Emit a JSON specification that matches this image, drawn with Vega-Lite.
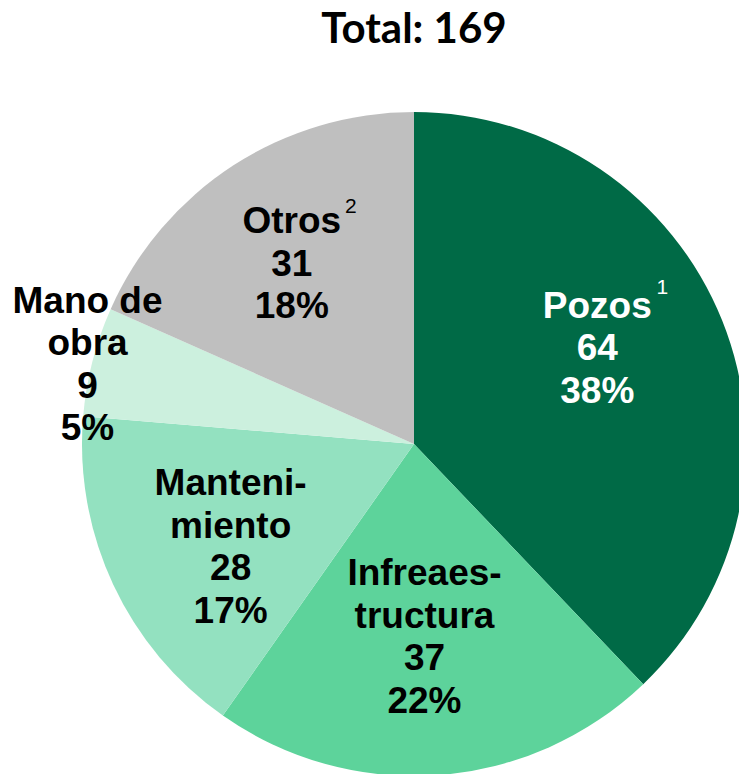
{
  "$schema": "https://vega.github.io/schema/vega-lite/v6.json",
  "width": 650,
  "height": 660,
  "autosize": "none",
  "padding": {"left": 89, "top": 114, "right": 0, "bottom": 0},
  "background": "white",
  "config": {"view": {"stroke": null}},
  "title": {"text": "Total: 169", "font": "Lato", "fontSize": 42, "fontWeight": "bold", "color": "#000000", "anchor": "middle", "baseline": "alphabetic", "offset": -1},
  "data": {
    "values": [
      {"cat": "Pozos", "value": 64, "idx": 1, "label": "Pozos\n64\n38%", "sup": "1"},
      {"cat": "Infreaestructura", "value": 37, "idx": 2, "label": "Infreaes-\ntructura\n37\n22%", "sup": ""},
      {"cat": "Mantenimiento", "value": 28, "idx": 3, "label": "Manteni-\nmiento\n28\n17%", "sup": ""},
      {"cat": "Mano de obra", "value": 9, "idx": 4, "label": "Mano de\nobra\n9\n5%", "sup": ""},
      {"cat": "Otros", "value": 31, "idx": 5, "label": "Otros\n31\n18%", "sup": "2"}
    ]
  },
  "encoding": {
    "theta": {"field": "value", "type": "quantitative", "stack": true},
    "order": {"field": "idx", "type": "quantitative"}
  },
  "layer": [
    {
      "mark": {"type": "arc", "outerRadius": 332},
      "encoding": {
        "color": {"field": "cat", "type": "nominal", "legend": null,
          "scale": {"domain": ["Pozos", "Infreaestructura", "Mantenimiento", "Mano de obra", "Otros"],
                    "range": ["#006A46", "#5DD39B", "#93E1C0", "#CCF0DE", "#BFBFBF"]}}
      }
    },
    {
      "mark": {"type": "text", "radius": 205, "dx": -7, "dy": -61, "font": "Liberation Sans", "fontSize": 37, "fontWeight": "bold", "lineBreak": "\n", "lineHeight": 42.5, "color": "#FFFFFF", "align": "center", "baseline": "middle"},
      "encoding": {"text": {"condition": {"test": "datum.cat === 'Pozos'", "field": "label", "type": "nominal"}, "value": ""}}
    },
    {
      "mark": {"type": "text", "radius": 195, "dx": -4, "dy": -64, "font": "Liberation Sans", "fontSize": 37, "fontWeight": "bold", "lineBreak": "\n", "lineHeight": 42.5, "color": "#000000", "align": "center", "baseline": "middle"},
      "encoding": {"text": {"condition": {"test": "datum.cat === 'Infreaestructura'", "field": "label", "type": "nominal"}, "value": ""}}
    },
    {
      "mark": {"type": "text", "radius": 209, "dx": 6, "dy": -48, "font": "Liberation Sans", "fontSize": 37, "fontWeight": "bold", "lineBreak": "\n", "lineHeight": 42.5, "color": "#000000", "align": "center", "baseline": "middle"},
      "encoding": {"text": {"condition": {"test": "datum.cat === 'Mantenimiento'", "field": "label", "type": "nominal"}, "value": ""}}
    },
    {
      "mark": {"type": "text", "radius": 336, "dx": -1, "dy": -59, "font": "Liberation Sans", "fontSize": 37, "fontWeight": "bold", "lineBreak": "\n", "lineHeight": 42.5, "color": "#000000", "align": "center", "baseline": "middle"},
      "encoding": {"text": {"condition": {"test": "datum.cat === 'Mano de obra'", "field": "label", "type": "nominal"}, "value": ""}}
    },
    {
      "mark": {"type": "text", "radius": 217, "dx": -4, "dy": -40, "font": "Liberation Sans", "fontSize": 37, "fontWeight": "bold", "lineBreak": "\n", "lineHeight": 42.5, "color": "#000000", "align": "center", "baseline": "middle"},
      "encoding": {"text": {"condition": {"test": "datum.cat === 'Otros'", "field": "label", "type": "nominal"}, "value": ""}}
    },
    {
      "mark": {"type": "text", "radius": 205, "dx": 58, "dy": -80, "font": "Liberation Sans", "fontSize": 21, "color": "#FFFFFF", "align": "center", "baseline": "middle"},
      "encoding": {"text": {"condition": {"test": "datum.cat === 'Pozos'", "field": "sup", "type": "nominal"}, "value": ""}}
    },
    {
      "mark": {"type": "text", "radius": 217, "dx": 55, "dy": -55, "font": "Liberation Sans", "fontSize": 21, "color": "#000000", "align": "center", "baseline": "middle"},
      "encoding": {"text": {"condition": {"test": "datum.cat === 'Otros'", "field": "sup", "type": "nominal"}, "value": ""}}
    }
  ]
}
